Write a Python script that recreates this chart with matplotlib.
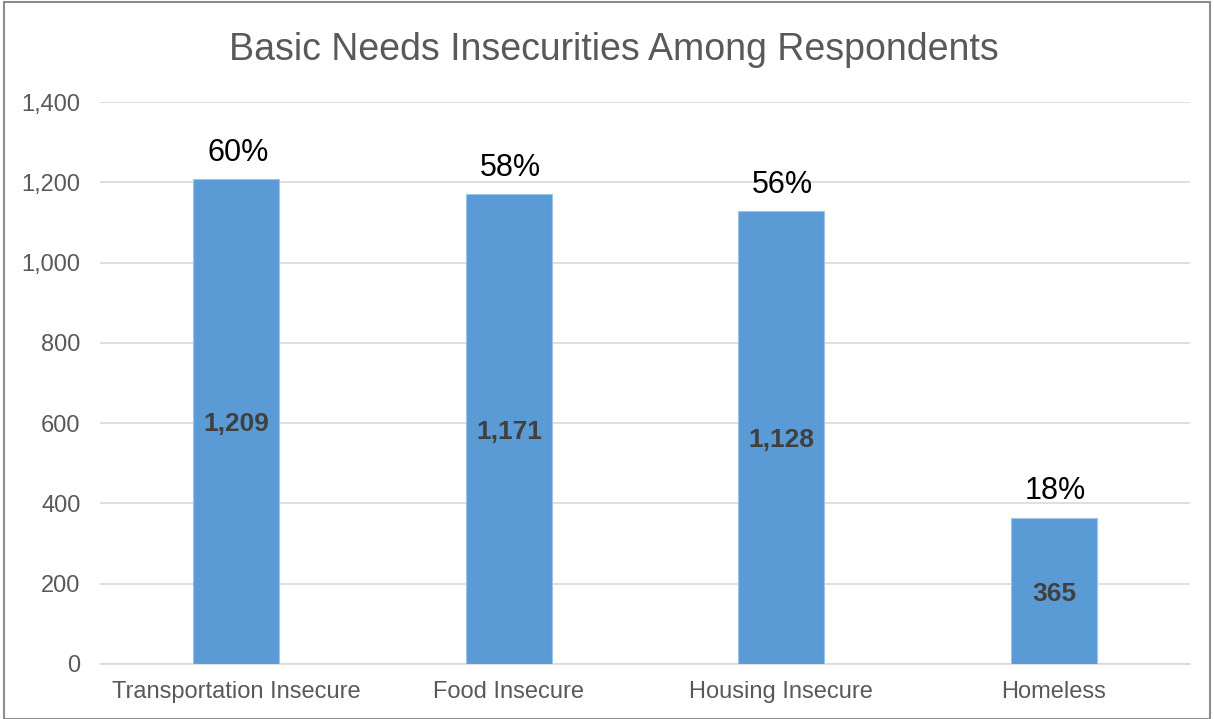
import matplotlib
matplotlib.use('Agg')
import matplotlib.pyplot as plt
from matplotlib.patches import Rectangle

plt.rcParams['font.family'] = ['Liberation Sans', 'DejaVu Sans']

# ── data ─────────────────────────────────────────────────────────────
categories = ['Transportation Insecure', 'Food Insecure', 'Housing Insecure', 'Homeless']
counts = [1209, 1171, 1128, 365]
pct_labels = ['60%', '58%', '56%', '18%']
yticks = [0, 200, 400, 600, 800, 1000, 1200, 1400]

bar_color = '#5B9BD5'
grid_color = '#D9D9D9'
text_gray = '#595959'

fig = plt.figure(figsize=(12.14, 7.19), dpi=100)
ax = fig.add_axes([0.0824, 0.0765, 0.898, 0.7815])

x = range(len(categories))
bars = ax.bar(x, counts, width=0.315, color=bar_color, edgecolor='#9DC3E6', lw=0.8, zorder=3)

ax.set_ylim(0, 1400)
ax.set_xlim(-0.5, len(categories) - 0.5)
ax.set_yticks(yticks)
ax.set_yticklabels([f'{v:,}' for v in yticks], fontsize=17, color=text_gray)
ax.set_xticks(list(x))
ax.set_xticklabels(categories, fontsize=17, color=text_gray)
ax.tick_params(axis='both', length=0)
ax.tick_params(axis='y', pad=14)
ax.tick_params(axis='x', pad=12)
ax.yaxis.grid(True, color=grid_color, lw=1.2, zorder=0)
for s in ['top', 'right', 'left']:
    ax.spines[s].set_visible(False)
ax.spines['bottom'].set_color(grid_color)
ax.spines['bottom'].set_linewidth(1.2)

for b, v, p in zip(bars, counts, pct_labels):
    cx = b.get_x() + b.get_width() / 2
    ax.annotate(f'{v:,}', (cx, v / 2), xytext=(0, -2), textcoords='offset points',
                ha='center', va='center', fontsize=19, fontweight='bold',
                color='#404040', zorder=4)
    ax.annotate(p, (cx, v), xytext=(1, 8), textcoords='offset points',
                ha='center', va='bottom', fontsize=22, color='black')

fig.text(0.506, 0.93, 'Basic Needs Insecurities Among Respondents',
         ha='center', va='center', fontsize=27, color=text_gray)

# chart border
fig.patches.append(Rectangle((0.003, 0.0), 0.994, 0.997, transform=fig.transFigure,
                             fill=False, edgecolor='#8C8C8C', lw=1.5))

plt.savefig('out.png', dpi=100)
plt.close()
